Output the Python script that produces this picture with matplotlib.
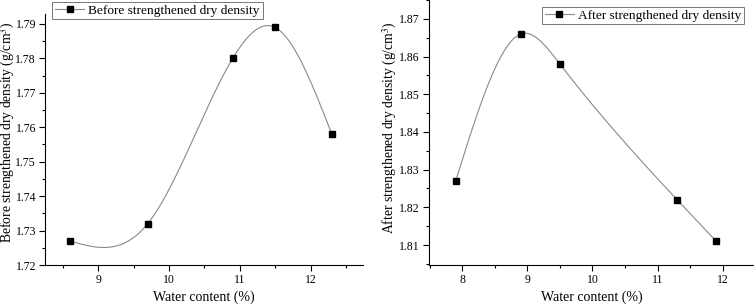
import numpy as np
import matplotlib
matplotlib.use("Agg")
import matplotlib.pyplot as plt
from matplotlib.ticker import MultipleLocator

plt.rcParams['font.family'] = ['Liberation Serif', 'DejaVu Serif']
plt.rcParams['mathtext.fontset'] = 'stix'

# data
before_x = [8.6, 9.7, 10.9, 11.5, 12.3]
before_y = [1.727, 1.732, 1.780, 1.789, 1.758]
after_x = [7.9, 8.9, 9.5, 11.3, 11.9]
after_y = [1.827, 1.866, 1.858, 1.822, 1.811]


def spline(x, y, n=300):
    # natural cubic spline, numpy only
    x = np.asarray(x, float)
    y = np.asarray(y, float)
    k = len(x)
    h = np.diff(x)
    A = np.zeros((k, k))
    b = np.zeros(k)
    A[0, 0] = 1
    A[-1, -1] = 1
    for i in range(1, k - 1):
        A[i, i - 1] = h[i - 1]
        A[i, i] = 2 * (h[i - 1] + h[i])
        A[i, i + 1] = h[i]
        b[i] = 3 * ((y[i + 1] - y[i]) / h[i] - (y[i] - y[i - 1]) / h[i - 1])
    c = np.linalg.solve(A, b)
    xs = np.linspace(x[0], x[-1], n)
    ys = np.empty_like(xs)
    for j, xv in enumerate(xs):
        i = min(np.searchsorted(x, xv, side='right') - 1, k - 2)
        bi = (y[i + 1] - y[i]) / h[i] - h[i] * (2 * c[i] + c[i + 1]) / 3
        di = (c[i + 1] - c[i]) / (3 * h[i])
        t = xv - x[i]
        ys[j] = y[i] + bi * t + c[i] * t ** 2 + di * t ** 3
    return xs, ys


fig = plt.figure(figsize=(7.54, 3.06), dpi=100)
ax1 = fig.add_axes([45 / 754, 1 - 265 / 306, 318 / 754, 251 / 306])
ax2 = fig.add_axes([429 / 754, 1 - 265 / 306, 325 / 754, 265 / 306])

panels = [
    (ax1, before_x, before_y, 'Before strengthened dry density', (8.25, 12.74), (1.72, 1.7929), (-0.088, 0.528)),
    (ax2, after_x, after_y, 'After strengthened dry density', (7.49, 12.48), (1.8047, 1.875), (-0.093, 0.52)),
]

for ax, x, y, name, xl, yl, lc in panels:
    xs, ys = spline(x, y)
    ax.plot(xs, ys, color='#8a8a8a', lw=0.8, zorder=2)
    ax.plot(x, y, 's', color='black', ms=5, zorder=3)
    ax.plot([], [], '-s', color='#8a8a8a', lw=0.8, mfc='black', mec='black', ms=5, label=name)
    ax.set_xlim(*xl)
    ax.set_ylim(*yl)
    ax.xaxis.set_major_locator(MultipleLocator(1))
    ax.xaxis.set_minor_locator(MultipleLocator(0.5))
    ax.yaxis.set_major_locator(MultipleLocator(0.01))
    ax.yaxis.set_minor_locator(MultipleLocator(0.005))
    ax.yaxis.set_major_formatter(plt.FormatStrFormatter('%.2f'))
    for s in ['top', 'right']:
        ax.spines[s].set_visible(False)
    ax.tick_params(direction='out', length=4.5, width=0.8, labelsize=8.5, pad=2)
    ax.tick_params(which='minor', direction='out', length=2.5, width=0.8)
    ax.set_xlabel('Water content (%)', fontsize=10, labelpad=3)
    ax.set_ylabel(name + ' (g/cm$^3$)', fontsize=9.8)
    ax.yaxis.set_label_coords(*lc)
    leg = ax.legend(loc='upper left' if ax is ax1 else 'upper right', fontsize=9.6,
                    frameon=True, fancybox=False, handlelength=2.2, borderpad=0.2,
                    handletextpad=0.3, borderaxespad=0.2)
    leg.get_frame().set_edgecolor('#555555')
    leg.get_frame().set_linewidth(0.7)

ax1.legend_.set_bbox_to_anchor((0.015, 1.06))
ax2.legend_.set_bbox_to_anchor((0.978, 0.985))

fig.savefig('out.png', dpi=100)
